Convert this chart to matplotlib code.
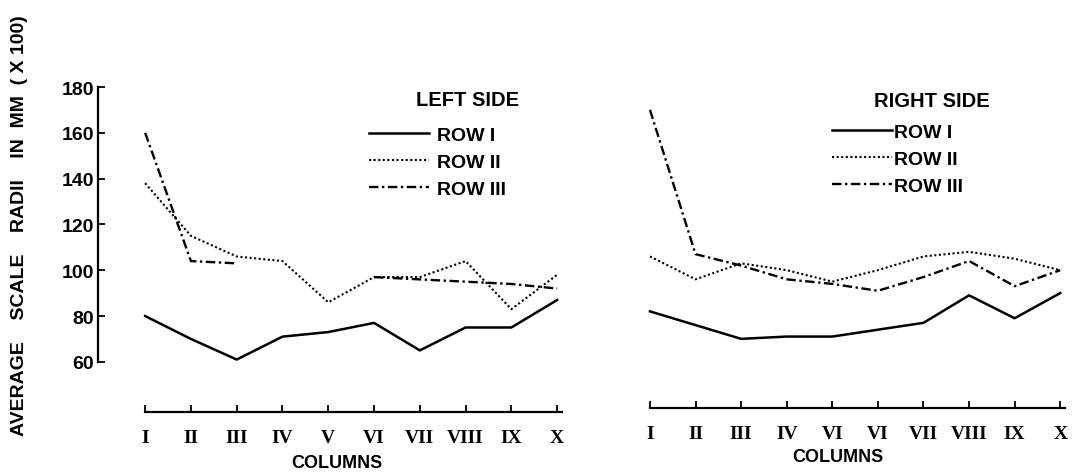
import numpy as np
import matplotlib
matplotlib.use("Agg")
import matplotlib.pyplot as plt

# column labels (the right panel repeats "VI" as printed in the source)
cols_left = ["I", "II", "III", "IV", "V", "VI", "VII", "VIII", "IX", "X"]
cols_right = ["I", "II", "III", "IV", "VI", "VI", "VII", "VIII", "IX", "X"]

left_row1 = [80, 70, 61, 71, 73, 77, 65, 75, 75, 87]
left_row2 = [138, 115, 106, 104, 86, 97, 97, 104, 83, 98]
left_row3 = [160, 104, 103, np.nan, np.nan, 97, 96, 95, 94, 92]

right_row1 = [82, 76, 70, 71, 71, 74, 77, 89, 79, 90]
right_row2 = [106, 96, 103, 100, 95, 100, 106, 108, 105, 100]
right_row3 = [170, 107, 102, 96, 94, 91, 97, 104, 93, 100]

row_labels = ["ROW I", "ROW II", "ROW III"]
y_ticks = [60, 80, 100, 120, 140, 160, 180]

SANS = "Liberation Sans"
SERIF = "Liberation Serif"
W, H = 1073, 477

styles = [
    dict(color="black", lw=1.8, linestyle="-"),
    dict(color="black", lw=1.5, linestyle=(0, (1, 1.2))),
    dict(color="black", lw=1.7, linestyle=(0, (4, 1.5, 1, 1.5))),
]

fig = plt.figure(figsize=(W / 100, H / 100), dpi=100)
fig.patch.set_facecolor("white")


def panel(rect, cols, rows, xlim, ylim, show_y, labelpad):
    ax = fig.add_axes(rect)
    x = np.arange(len(cols))
    lines = []
    for vals, st, lab in zip(rows, styles, row_labels):
        ln, = ax.plot(x, vals, label=lab, **st)
        lines.append(ln)
    ax.set_xlim(*xlim)
    ax.set_ylim(*ylim)
    for s in ["top", "right"]:
        ax.spines[s].set_visible(False)
    ax.spines["bottom"].set_linewidth(1.6)
    ax.spines["bottom"].set_bounds(0, 9.1)
    ax.set_xticks(x)
    ax.set_xticklabels(cols, fontfamily=SERIF, fontweight="bold", fontsize=14)
    ax.tick_params(axis="x", direction="in", length=5, width=1.3, pad=12)
    ax.set_xlabel("COLUMNS", fontfamily=SANS, fontweight="bold", fontsize=13,
                  labelpad=labelpad)
    if show_y:
        ax.spines["left"].set_linewidth(1.6)
        ax.spines["left"].set_bounds(60, 180)
        ax.set_yticks(y_ticks)
        ax.set_yticklabels([str(t) for t in y_ticks], fontfamily=SANS,
                           fontweight="bold", fontsize=14)
        ax.tick_params(axis="y", direction="in", length=5, width=1.3, pad=3)
    else:
        ax.spines["left"].set_visible(False)
        ax.set_yticks([])
    return ax, lines


axL, linesL = panel([98 / W, 1 - 413 / H, 477 / W, 325 / H], cols_left,
                    [left_row1, left_row2, left_row3], (-1.03, 9.39),
                    (38.1, 180), True, 6)
axR, linesR = panel([603 / W, 1 - 409 / H, 470 / W, 321 / H], cols_right,
                    [right_row1, right_row2, right_row3], (-1.03, 9.28),
                    (39.8, 180), False, 4.5)

leg_font = dict(family=SANS, weight="bold", size=14)
axL.legend(linesL, row_labels, loc="upper left", frameon=False, prop=leg_font,
           bbox_to_anchor=(369 / W, 1 - 127 / H), bbox_transform=fig.transFigure,
           borderpad=0, borderaxespad=0, handlelength=3.1, handletextpad=0.4,
           labelspacing=0.5)
axR.legend(linesR, row_labels, loc="upper left", frameon=False, prop=leg_font,
           bbox_to_anchor=(832 / W, 1 - 124 / H), bbox_transform=fig.transFigure,
           borderpad=0, borderaxespad=0, handlelength=3.1, handletextpad=0.1,
           labelspacing=0.48)

fig.text(468 / W, 1 - 100 / H, "LEFT SIDE", ha="center", va="center",
         fontfamily=SANS, fontweight="bold", fontsize=14.5)
fig.text(932 / W, 1 - 102 / H, "RIGHT SIDE", ha="center", va="center",
         fontfamily=SANS, fontweight="bold", fontsize=14.5)

fig.text(20 / W, 1 - 226 / H, "AVERAGE    SCALE    RADII    IN  MM  ( X 100)",
         rotation=90, ha="center", va="center", fontfamily=SANS,
         fontweight="bold", fontsize=14)

fig.savefig("out.png", dpi=100)
